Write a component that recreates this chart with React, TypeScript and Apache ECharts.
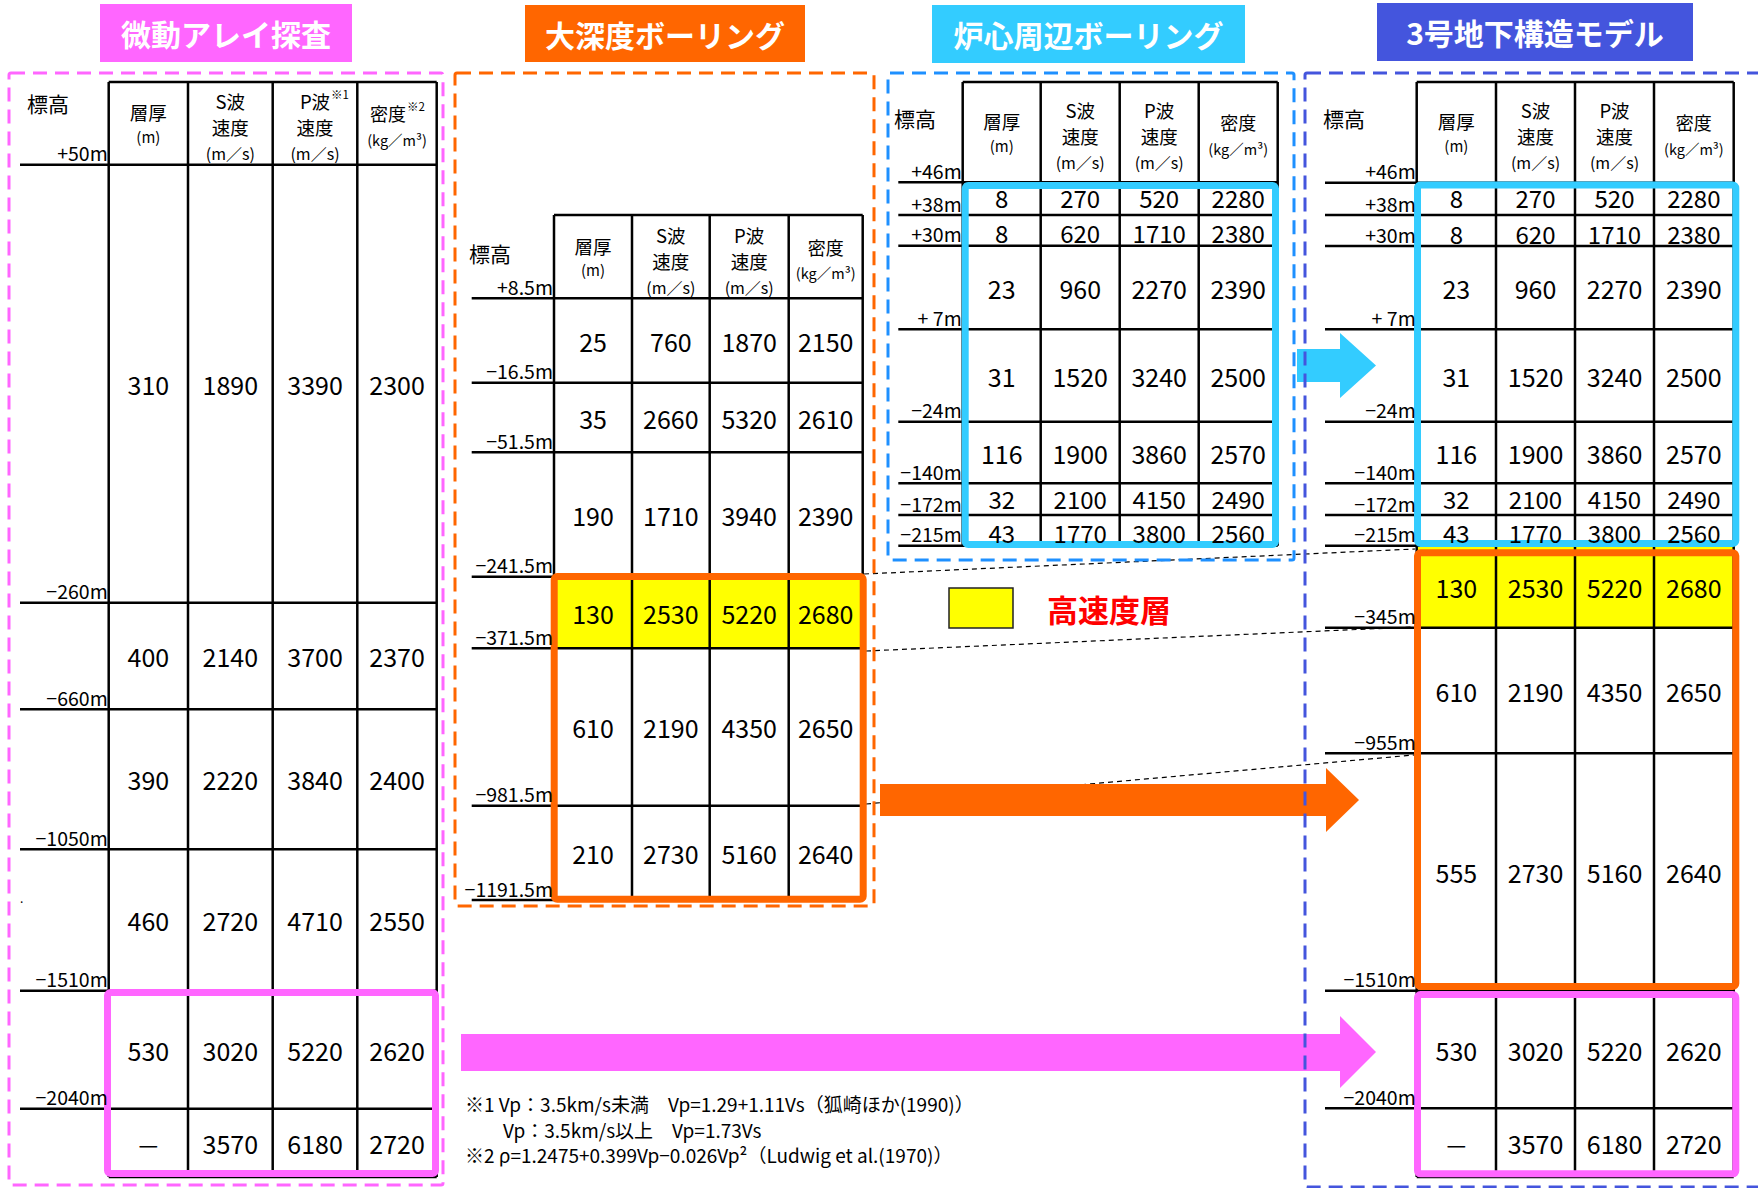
import React, { useEffect, useRef } from 'react';
import * as echarts from 'echarts';

const W = 1758;
const H = 1188;
const FONT = '"Noto Sans CJK JP", "Noto Sans", sans-serif';

// ---------------- data ----------------
const panelTitles = ['微動アレイ探査', '大深度ボーリング', '炉心周辺ボーリング', '3号地下構造モデル'];

const microElevations = ['+50m', '−260m', '−660m', '−1050m', '−1510m', '−2040m'];
const microThickness = ['310', '400', '390', '460', '530', '—'];
const microVs = ['1890', '2140', '2220', '2720', '3020', '3570'];
const microVp = ['3390', '3700', '3840', '4710', '5220', '6180'];
const microDensity = ['2300', '2370', '2400', '2550', '2620', '2720'];

const deepElevations = ['+8.5m', '−16.5m', '−51.5m', '−241.5m', '−371.5m', '−981.5m', '−1191.5m'];
const deepThickness = ['25', '35', '190', '130', '610', '210'];
const deepVs = ['760', '2660', '1710', '2530', '2190', '2730'];
const deepVp = ['1870', '5320', '3940', '5220', '4350', '5160'];
const deepDensity = ['2150', '2610', '2390', '2680', '2650', '2640'];

const coreElevations = ['+46m', '+38m', '+30m', '+ 7m', '−24m', '−140m', '−172m', '−215m'];
const coreThickness = ['8', '8', '23', '31', '116', '32', '43'];
const coreVs = ['270', '620', '960', '1520', '1900', '2100', '1770'];
const coreVp = ['520', '1710', '2270', '3240', '3860', '4150', '3800'];
const coreDensity = ['2280', '2380', '2390', '2500', '2570', '2490', '2560'];

const modelElevations = ['+46m', '+38m', '+30m', '+ 7m', '−24m', '−140m', '−172m', '−215m', '−345m', '−955m', '−1510m', '−2040m'];
const modelThickness = ['8', '8', '23', '31', '116', '32', '43', '130', '610', '555', '530', '—'];
const modelVs = ['270', '620', '960', '1520', '1900', '2100', '1770', '2530', '2190', '2730', '3020', '3570'];
const modelVp = ['520', '1710', '2270', '3240', '3860', '4150', '3800', '5220', '4350', '5160', '5220', '6180'];
const modelDensity = ['2280', '2380', '2390', '2500', '2570', '2490', '2560', '2680', '2650', '2640', '2620', '2720'];

const highSpeedLabel = '高速度層';
const noteLines = [
  '※1 Vp：3.5km/s未満　Vp=1.29+1.11Vs（狐崎ほか(1990)）',
  'Vp：3.5km/s以上　Vp=1.73Vs',
  '※2 ρ=1.2475+0.399Vp−0.026Vp²（Ludwig et al.(1970)）',
];

// ---------------- layout ----------------
type TableLayout = {
  cols: number[];
  headTop: number;
  edges: number[];
  bottom: number;
  lineStart: number;
  hyoko: [number, number];
  yellowRows: number[];
  superscripts: boolean;
};

const tables: { layout: TableLayout; elev: string[]; cols: string[][] }[] = [
  {
    layout: {
      cols: [108.7, 188, 272.7, 357.3, 436.7],
      headTop: 82,
      edges: [164.7, 602.7, 709.3, 849.3, 990.7, 1108.7],
      bottom: 1177,
      lineStart: 20,
      hyoko: [27, 103],
      yellowRows: [],
      superscripts: true,
    },
    elev: microElevations,
    cols: [microThickness, microVs, microVp, microDensity],
  },
  {
    layout: {
      cols: [554, 632, 709.7, 788.7, 862.7],
      headTop: 215,
      edges: [298.3, 382.7, 452.3, 576.7, 648.3, 805.7, 900],
      bottom: 900,
      lineStart: 471.7,
      hyoko: [469, 253],
      yellowRows: [3],
      superscripts: false,
    },
    elev: deepElevations,
    cols: [deepThickness, deepVs, deepVp, deepDensity],
  },
  {
    layout: {
      cols: [962.7, 1040.7, 1119.7, 1198.7, 1277.7],
      headTop: 82,
      edges: [182.3, 215, 245.7, 329.3, 421.7, 483.3, 515, 545.7],
      bottom: 545.7,
      lineStart: 898.3,
      hyoko: [894, 118],
      yellowRows: [],
      superscripts: false,
    },
    elev: coreElevations,
    cols: [coreThickness, coreVs, coreVp, coreDensity],
  },
  {
    layout: {
      cols: [1416.7, 1496, 1575, 1654, 1733.7],
      headTop: 82,
      edges: [182.7, 215, 246, 329.3, 421.7, 483.3, 515, 545.7, 627.7, 753.3, 990.7, 1108.3],
      bottom: 1177,
      lineStart: 1325,
      hyoko: [1323, 118],
      yellowRows: [7],
      superscripts: false,
    },
    elev: modelElevations,
    cols: [modelThickness, modelVs, modelVp, modelDensity],
  },
];

const titleBoxes = [
  { x: 100, y: 4, w: 252, h: 58, color: '#FF66FF' },
  { x: 525, y: 5, w: 280, h: 57, color: '#FF6600' },
  { x: 932, y: 5, w: 313, h: 58, color: '#33CCFF' },
  { x: 1377, y: 3, w: 316, h: 58, color: '#4455DD' },
];

const dashedBoxes = [
  { x: 9, y: 73, w: 434, h: 1112, color: '#FF66FF' },
  { x: 455, y: 73, w: 419, h: 833, color: '#FF6600' },
  { x: 888, y: 73, w: 406, h: 487, color: '#1E90FF' },
  { x: 1305, y: 73, w: 520, h: 1114, color: '#4455DD' },
];

// outer bounds of the thick highlight frames
const frames = [
  { x0: 104, y0: 989, x1: 439, y1: 1177, color: '#FF66FF' },
  { x0: 550.7, y0: 573, x1: 866.7, y1: 902.7, color: '#FF6600' },
  { x0: 961.7, y0: 182, x1: 1279, y1: 548, color: '#33CCFF' },
  { x0: 1414, y0: 181.5, x1: 1739.3, y1: 547, color: '#33CCFF' },
  { x0: 1414, y0: 549.3, x1: 1739.3, y1: 990, color: '#FF6600' },
  { x0: 1414, y0: 991, x1: 1739.3, y1: 1177.3, color: '#FF66FF' },
];

const arrows = [
  { color: '#33CCFF', x0: 1297, xh: 1340, tip: 1376, bt: 349, bb: 382, ht: 333, hb: 398 },
  { color: '#FF6600', x0: 880, xh: 1326, tip: 1359, bt: 784, bb: 816, ht: 768, hb: 832 },
  { color: '#FF66FF', x0: 461, xh: 1340, tip: 1376, bt: 1034, bb: 1071, ht: 1016, hb: 1088 },
];

const connectors = [
  [864, 574, 1415, 549],
  [866, 651, 1414, 627],
  [866, 804, 1414, 755],
];

// ---------------- builders ----------------
function txt(x: number, y: number, text: string, fontSize: number, opts: any = {}) {
  return {
    type: 'text',
    x,
    y,
    silent: true,
    z: opts.z ?? 10,
    style: {
      text,
      fontSize,
      lineHeight: fontSize,
      fontFamily: FONT,
      fontWeight: opts.weight ?? 'normal',
      fill: opts.fill ?? '#000',
      align: opts.align ?? 'center',
      verticalAlign: opts.va ?? 'middle',
    },
  };
}

function line(x1: number, y1: number, x2: number, y2: number, stroke = '#000', lineWidth = 2.5, dash?: number[], z = 5) {
  return {
    type: 'line',
    silent: true,
    z,
    shape: { x1, y1, x2, y2 },
    style: { stroke, lineWidth, lineDash: dash },
  };
}

function buildTable(t: { layout: TableLayout; elev: string[]; cols: string[][] }) {
  const L = t.layout;
  const out: any[] = [];
  const edges = L.bottom > L.edges[L.edges.length - 1] ? [...L.edges, L.bottom] : [...L.edges];
  const left = L.cols[0];
  const right = L.cols[4];

  // yellow rows
  L.yellowRows.forEach((r) => {
    out.push({
      type: 'rect',
      silent: true,
      z: 2,
      shape: { x: left, y: edges[r], width: right - left, height: edges[r + 1] - edges[r] },
      style: { fill: '#FFFF00' },
    });
  });

  // vertical column lines
  L.cols.forEach((x) => out.push(line(x, L.headTop, x, L.bottom)));
  // header top
  out.push(line(left, L.headTop, right, L.headTop));
  // horizontal boundaries with elevation labels
  L.edges.forEach((y, i) => {
    out.push(line(L.lineStart, y, right, y));
    out.push(txt(left - 1, y - 2, t.elev[i], 19.5, { align: 'right', va: 'bottom' }));
  });
  if (L.bottom > L.edges[L.edges.length - 1]) out.push(line(left, L.bottom, right, L.bottom));

  // header
  const hc = (L.headTop + L.edges[0]) / 2;
  const cx = (c: number) => (L.cols[c] + L.cols[c + 1]) / 2;
  out.push(txt(L.hyoko[0], L.hyoko[1], '標高', 21, { align: 'left' }));

  out.push(txt(cx(0), hc - 11, '層厚', 18.5));
  out.push(txt(cx(0), hc + 13, '(m)', 15));

  [1, 2].forEach((c) => {
    out.push(txt(cx(c), hc - 22, c === 1 ? 'S波' : 'P波', 18.5));
    out.push(txt(cx(c), hc + 4, '速度', 18.5));
    out.push(txt(cx(c), hc + 30, '(m／s)', 16));
  });

  const dx = L.superscripts ? -9 : 0;
  out.push(txt(cx(3) + dx, hc - 10, '密度', 18));
  out.push(txt(cx(3), hc + 16, '(kg／m³)', 14.5));
  if (L.superscripts) {
    out.push(txt(cx(2) + 16, hc - 29, '※1', 11.5, { align: 'left' }));
    out.push(txt(cx(3) + dx + 19, hc - 17, '※2', 11.5, { align: 'left' }));
  }

  // cell values
  const nRows = edges.length - 1;
  const tight = (r: number) => r >= 0 && r < nRows && edges[r + 1] - edges[r] < 36;
  for (let r = 0; r < nRows; r++) {
    let cy = (edges[r] + edges[r + 1]) / 2;
    const isTight = tight(r);
    if (isTight && tight(r + 1)) cy -= 1;
    if (isTight && tight(r - 1)) cy += 2.5;
    t.cols.forEach((colVals, c) => {
      const v = colVals[r];
      out.push(txt(cx(c), cy, v, v === '—' ? 22 : isTight ? 24 : 25));
    });
  }
  return out;
}

function buildGraphics() {
  const g: any[] = [];
  tables.forEach((t) => g.push(...buildTable(t)));

  connectors.forEach(([x1, y1, x2, y2]) => g.push(line(x1, y1, x2, y2, '#000', 1.2, [5, 4], 6)));

  arrows.forEach((a) => {
    const mid = (a.ht + a.hb) / 2;
    g.push({
      type: 'polygon',
      silent: true,
      z: 7,
      shape: {
        points: [
          [a.x0, a.bt], [a.xh, a.bt], [a.xh, a.ht], [a.tip, mid],
          [a.xh, a.hb], [a.xh, a.bb], [a.x0, a.bb],
        ],
      },
      style: { fill: a.color },
    });
  });

  dashedBoxes.forEach((b) => {
    g.push({
      type: 'rect',
      silent: true,
      z: 8,
      shape: { x: b.x, y: b.y, width: b.w, height: b.h, r: 2 },
      style: { fill: 'none', stroke: b.color, lineWidth: 3, lineDash: [14, 8] },
    });
  });

  frames.forEach((f) => {
    const lw = 7;
    g.push({
      type: 'rect',
      silent: true,
      z: 9,
      shape: { x: f.x0 + lw / 2, y: f.y0 + lw / 2, width: f.x1 - f.x0 - lw, height: f.y1 - f.y0 - lw, r: 3 },
      style: { fill: 'none', stroke: f.color, lineWidth: lw },
    });
  });

  titleBoxes.forEach((b, i) => {
    g.push({
      type: 'rect',
      silent: true,
      z: 9,
      shape: { x: b.x, y: b.y, width: b.w, height: b.h },
      style: { fill: b.color },
    });
    g.push(txt(b.x + b.w / 2, b.y + b.h / 2, panelTitles[i], 30, { fill: '#fff', weight: 'bold', z: 11 }));
  });

  // legend
  g.push({
    type: 'rect',
    silent: true,
    z: 9,
    shape: { x: 949, y: 588, width: 64, height: 40 },
    style: { fill: '#FFFF00', stroke: '#222', lineWidth: 1.5 },
  });
  g.push(txt(1047, 608, highSpeedLabel, 31, { fill: '#FF0000', weight: 'bold', align: 'left' }));

  // notes
  g.push(txt(465, 1103, noteLines[0], 19, { align: 'left' }));
  g.push(txt(503, 1129, noteLines[1], 19, { align: 'left' }));
  g.push(txt(465, 1154, noteLines[2], 19, { align: 'left' }));

  // stray dot from the original figure
  g.push(txt(20, 897, '.', 12, { align: 'left' }));

  return g;
}

export default function App() {
  const ref = useRef<HTMLDivElement>(null);
  useEffect(() => {
    document.body.style.margin = '0';
    if (!ref.current) return;
    const chart = echarts.init(ref.current, undefined, { renderer: 'svg' });
    chart.setOption({
      animation: false,
      backgroundColor: '#ffffff',
      graphic: { elements: buildGraphics() },
    });
    return () => chart.dispose();
  }, []);
  return <div ref={ref} style={{ width: W, height: H }} />;
}
